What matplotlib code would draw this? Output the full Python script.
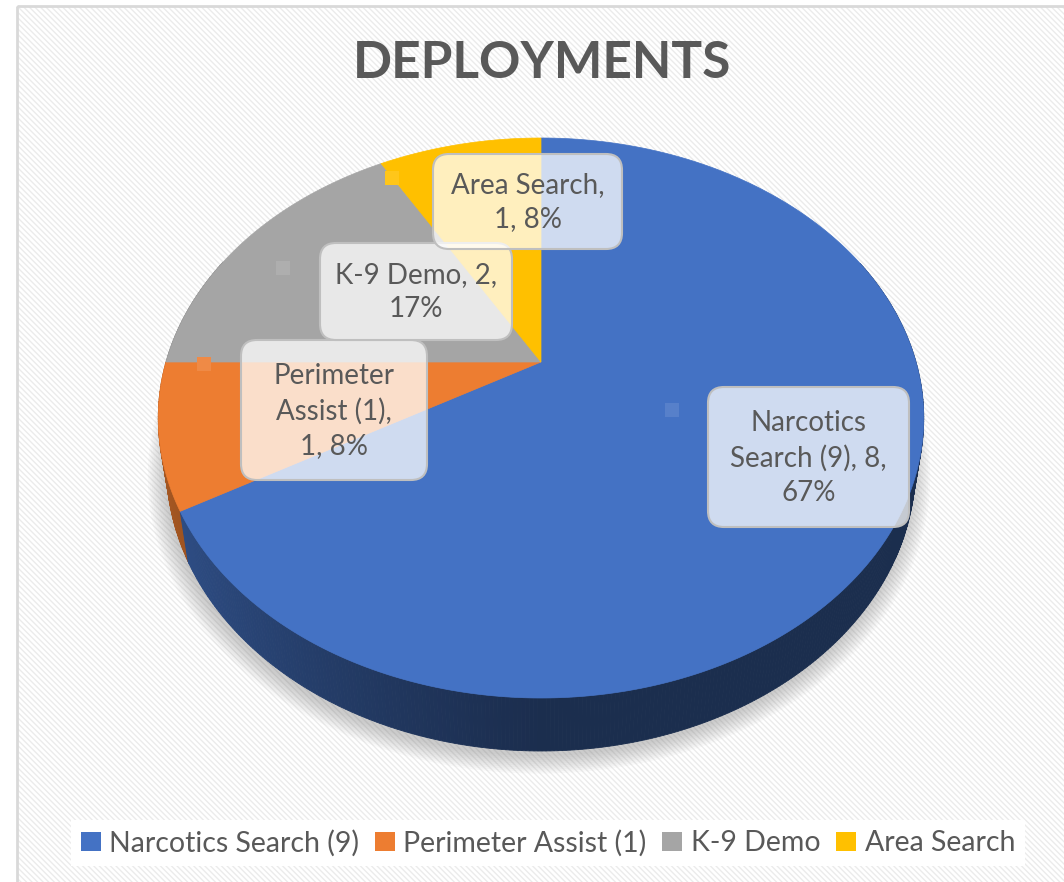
import matplotlib.pyplot as plt
import numpy as np
from matplotlib.patches import Polygon, Rectangle, FancyBboxPatch, Patch
from matplotlib.colors import to_rgb

categories = ['Narcotics Search (9)', 'Perimeter Assist (1)', 'K-9 Demo', 'Area Search']
counts = [8, 1, 2, 1]
colors = ['#4472C4', '#ED7D31', '#A5A5A5', '#FFC000']
label_texts = [
    'Narcotics\nSearch (9), 8,\n67%',
    'Perimeter\nAssist (1),\n1, 8%',
    'K-9 Demo, 2,\n17%',
    'Area Search,\n1, 8%',
]

plt.rcParams['font.family'] = ['Lato', 'DejaVu Sans']
txt_col = '#595959'

fig = plt.figure(figsize=(10.64, 8.82), dpi=100)
ax = fig.add_axes([0, 0, 1, 1])
ax.set_xlim(0, 1064)
ax.set_ylim(882, 0)
ax.axis('off')

# chart area: faint diagonal stripes + light border
ax.add_patch(Rectangle((17, 6), 1060, 890, facecolor='white', edgecolor='#EBEBEB',
                       hatch='\\\\\\\\\\\\', lw=0, zorder=0))
ax.add_patch(Rectangle((17, 6), 1060, 890, facecolor='none', edgecolor='#D9D9D9',
                       lw=2, zorder=0.5))

# perspective disk
cx, cy = 541, 362
k, kc, p, thick = 375, 268.8, 0.2, 48.3
shrink = 0.978  # bottom rim sits farther away, so it looks narrower


def proj(theta, drop=0.0):
    t = np.radians(theta)
    u, v = np.sin(t), np.cos(t)
    d = 1 + p * v
    s = shrink if drop else 1.0
    return cx + s * k * u / d, cy - s * kc * v / d + drop / d


# soft shadow
th = np.linspace(0, 360, 361)
bx, by = proj(th, thick)
for i in range(10):
    grow = 1 + 0.005 * i
    ax.add_patch(Polygon(np.column_stack([cx + (bx - cx) * grow - 2, cy + (by - cy) * grow + 5]),
                         closed=True, facecolor='#6F6F6F', edgecolor='none', alpha=0.04, zorder=1))

total = sum(counts)
bounds = np.concatenate([[0], np.cumsum(counts) / total * 360])

# side faces, back to front
quads = []
for i, c in enumerate(colors):
    a0, a1 = bounds[i], bounds[i + 1]
    ts = np.linspace(a0, a1, max(int((a1 - a0) * 2), 2))
    for t0, t1 in zip(ts[:-1], ts[1:]):
        tm = np.radians((t0 + t1) / 2)
        u, v = np.sin(tm), np.cos(tm)
        if v > 0.4:
            continue
        fac = 0.40 + 0.32 * np.clip(-u, 0, 1) ** 1.2
        col = tuple(np.array(to_rgb(c)) * fac)
        x0, y0 = proj(t0)
        x1, y1 = proj(t1)
        x2, y2 = proj(t1, thick)
        x3, y3 = proj(t0, thick)
        quads.append((v, [(x0, y0), (x1, y1), (x2, y2), (x3, y3)], col))
quads.sort(key=lambda q: -q[0])
for v, pts, col in quads:
    ax.add_patch(Polygon(pts, closed=True, facecolor=col, edgecolor=col, lw=0.6, zorder=2))

# top faces
for i, c in enumerate(colors):
    a0, a1 = bounds[i], bounds[i + 1]
    ts = np.linspace(a0, a1, max(int((a1 - a0) * 2), 2))
    xs, ys = proj(ts)
    pts = np.column_stack([np.r_[cx, xs], np.r_[cy, ys]])
    ax.add_patch(Polygon(pts, closed=True, facecolor=c, edgecolor=c, lw=0.5, zorder=3))

# small key squares left by the callouts
squares = [(672, 410), (204, 364), (283, 268), (392, 178)]
for (sx, sy), c in zip(squares, colors):
    lc = np.array(to_rgb(c)) * 0.9 + 0.1
    ax.add_patch(Rectangle((sx - 7, sy - 7), 14, 14, facecolor=lc, edgecolor='none', zorder=4))

# data label callouts (x0, y0, x1, y1)
boxes = [(708, 387, 909, 527), (241, 340, 427, 480), (320, 243, 512, 340), (433, 154, 622, 249)]
for (x0, y0, x1, y1), lab in zip(boxes, label_texts):
    ax.add_patch(FancyBboxPatch((x0, y0), x1 - x0, y1 - y0,
                                boxstyle='round,pad=0,rounding_size=16',
                                facecolor=(1, 1, 1, 0.75), edgecolor='#BFBFBF', lw=1.5, zorder=5))
    ax.text((x0 + x1) / 2, (y0 + y1) / 2 + 1, lab, ha='center', va='center', fontsize=20,
            color=txt_col, linespacing=1.38, zorder=6)

ax.text(542, 64, 'DEPLOYMENTS', ha='center', va='center', fontsize=37, fontweight='bold',
        color=txt_col, zorder=6)

handles = [Patch(facecolor=c, edgecolor='none') for c in colors]
leg = fig.legend(handles, categories, loc='center', bbox_to_anchor=(548 / 1064, 1 - 843 / 882),
                 ncol=4, fontsize=20.5, frameon=True, fancybox=False, handlelength=0.7,
                 handleheight=0.7, handletextpad=0.3, columnspacing=0.55, borderpad=0.35)
leg.get_frame().set_facecolor('white')
leg.get_frame().set_edgecolor('none')
leg.get_frame().set_alpha(1)
for t in leg.get_texts():
    t.set_color(txt_col)

fig.savefig('out.png', dpi=100, facecolor='white')
